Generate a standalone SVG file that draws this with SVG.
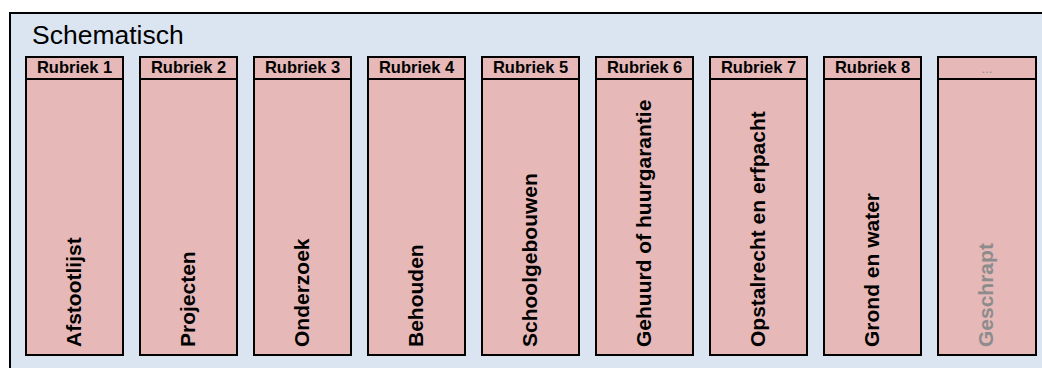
<svg xmlns="http://www.w3.org/2000/svg" width="1042" height="368" viewBox="0 0 1042 368">
<style>
.frame{fill:#dbe5f1;stroke:#000;stroke-width:2}
.col{fill:#e6b8b7;stroke:#000;stroke-width:2}
.div{stroke:#000;stroke-width:2}
.title{font-family:"Liberation Sans",Arial,sans-serif;font-size:26.5px;fill:#000}
.hdr{font-family:"Liberation Sans",Arial,sans-serif;font-size:16.5px;font-weight:bold;fill:#000;text-anchor:middle}
.lbl{font-family:"Liberation Sans",Arial,sans-serif;font-size:21px;font-weight:bold;fill:#000}
.gray{fill:#8c8c8c}
</style>
<rect class="frame" x="10" y="13" width="1040" height="366"/>
<text class="title" x="32" y="44">Schematisch</text>
<g id="rubriek1"><rect class="col" x="26" y="57" width="97" height="298"/><line class="div" x1="26" y1="79" x2="123" y2="79"/><text class="hdr" x="74.5" y="73">Rubriek 1</text><text class="lbl" transform="translate(80.5,347) rotate(-90)">Afstootlijst</text></g>
<g id="rubriek2"><rect class="col" x="140" y="57" width="97" height="298"/><line class="div" x1="140" y1="79" x2="237" y2="79"/><text class="hdr" x="188.5" y="73">Rubriek 2</text><text class="lbl" transform="translate(194.5,347) rotate(-90)">Projecten</text></g>
<g id="rubriek3"><rect class="col" x="254" y="57" width="97" height="298"/><line class="div" x1="254" y1="79" x2="351" y2="79"/><text class="hdr" x="302.5" y="73">Rubriek 3</text><text class="lbl" transform="translate(308.5,347) rotate(-90)">Onderzoek</text></g>
<g id="rubriek4"><rect class="col" x="368" y="57" width="97" height="298"/><line class="div" x1="368" y1="79" x2="465" y2="79"/><text class="hdr" x="416.5" y="73">Rubriek 4</text><text class="lbl" transform="translate(422.5,347) rotate(-90)">Behouden</text></g>
<g id="rubriek5"><rect class="col" x="482" y="57" width="97" height="298"/><line class="div" x1="482" y1="79" x2="579" y2="79"/><text class="hdr" x="530.5" y="73">Rubriek 5</text><text class="lbl" transform="translate(536.5,347) rotate(-90)">Schoolgebouwen</text></g>
<g id="rubriek6"><rect class="col" x="596" y="57" width="97" height="298"/><line class="div" x1="596" y1="79" x2="693" y2="79"/><text class="hdr" x="644.5" y="73">Rubriek 6</text><text class="lbl" transform="translate(650.5,347) rotate(-90)">Gehuurd of huurgarantie</text></g>
<g id="rubriek7"><rect class="col" x="710" y="57" width="97" height="298"/><line class="div" x1="710" y1="79" x2="807" y2="79"/><text class="hdr" x="758.5" y="73">Rubriek 7</text><text class="lbl" transform="translate(764.5,347) rotate(-90)">Opstalrecht en erfpacht</text></g>
<g id="rubriek8"><rect class="col" x="824" y="57" width="97" height="298"/><line class="div" x1="824" y1="79" x2="921" y2="79"/><text class="hdr" x="872.5" y="73">Rubriek 8</text><text class="lbl" transform="translate(878.5,347) rotate(-90)">Grond en water</text></g>
<g id="rubriek9"><rect class="col" x="938" y="57" width="98" height="298"/><line class="div" x1="938" y1="79" x2="1036" y2="79"/><text class="hdr gray" x="987" y="73" style="font-weight:normal;font-size:13px">...</text><text class="lbl gray" transform="translate(993,347) rotate(-90)">Geschrapt</text></g>
<g id="connectors"/>
</svg>
